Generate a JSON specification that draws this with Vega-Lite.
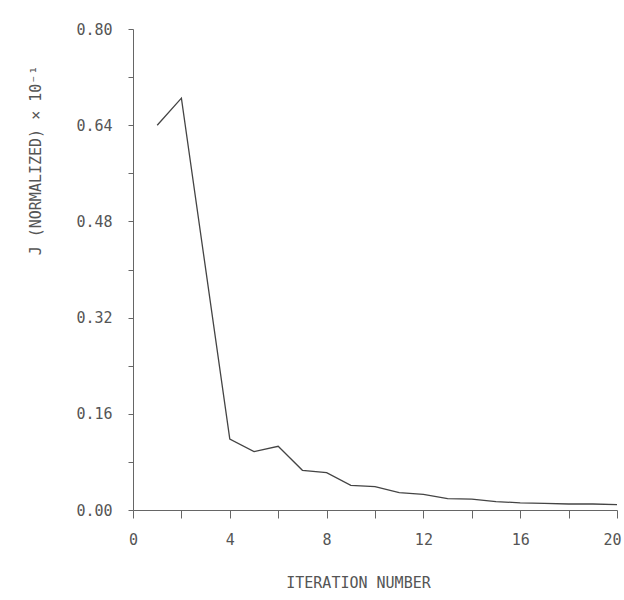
{
  "$schema": "https://vega.github.io/schema/vega-lite/v6.json",
  "width": 484,
  "height": 481,
  "autosize": {"type": "none"},
  "padding": {"left": 133, "top": 29, "right": 7, "bottom": 90},
  "background": "white",
  "config": {
    "view": {"stroke": null},
    "axis": {
      "labelFont": "DejaVu Sans Mono",
      "titleFont": "DejaVu Sans Mono",
      "labelFontSize": 15,
      "titleFontSize": 15,
      "titleFontWeight": "normal",
      "labelColor": "#555555",
      "titleColor": "#555555",
      "domainColor": "#666666",
      "tickColor": "#666666",
      "grid": false
    }
  },
  "data": {
    "values": [
      {"iter": 1, "J": 0.640},
      {"iter": 2, "J": 0.685},
      {"iter": 4, "J": 0.118},
      {"iter": 5, "J": 0.097},
      {"iter": 6, "J": 0.106},
      {"iter": 7, "J": 0.066},
      {"iter": 8, "J": 0.062},
      {"iter": 9, "J": 0.041},
      {"iter": 10, "J": 0.039},
      {"iter": 11, "J": 0.029},
      {"iter": 12, "J": 0.026},
      {"iter": 13, "J": 0.019},
      {"iter": 14, "J": 0.018},
      {"iter": 15, "J": 0.014},
      {"iter": 16, "J": 0.012},
      {"iter": 17, "J": 0.011},
      {"iter": 18, "J": 0.010},
      {"iter": 19, "J": 0.010},
      {"iter": 20, "J": 0.009}
    ]
  },
  "mark": {"type": "line", "color": "#444444", "strokeWidth": 1.3},
  "encoding": {
    "x": {
      "field": "iter",
      "type": "quantitative",
      "scale": {"domain": [0, 20], "nice": false},
      "axis": {
        "title": "ITERATION NUMBER",
        "values": [0, 2, 4, 6, 8, 10, 12, 14, 16, 18, 20],
        "labelExpr": "datum.value % 4 == 0 ? datum.value : ''",
        "labelAlign": {"condition": {"test": "datum.value == 20", "value": "right"}, "value": "center"},
        "labelOffset": {"condition": {"test": "datum.value == 20", "value": 4}, "value": 0},
        "tickSize": 8,
        "labelPadding": 14,
        "titleX": 225,
        "titleY": 72,
        "titleBaseline": "middle",
        "labelFlush": false
      }
    },
    "y": {
      "field": "J",
      "type": "quantitative",
      "scale": {"domain": [0, 0.8], "nice": false},
      "axis": {
        "title": "J (NORMALIZED) × 10⁻¹",
        "values": [0, 0.08, 0.16, 0.24, 0.32, 0.40, 0.48, 0.56, 0.64, 0.72, 0.80],
        "labelExpr": "round(datum.value * 100) % 16 == 0 ? format(datum.value, '.2f') : ''",
        "tickSize": 5,
        "labelPadding": 16,
        "titleX": -98,
        "titleY": 131,
        "titleAngle": -90,
        "titleAlign": "center",
        "titleBaseline": "middle",
        "labelFlush": false
      }
    }
  }
}
